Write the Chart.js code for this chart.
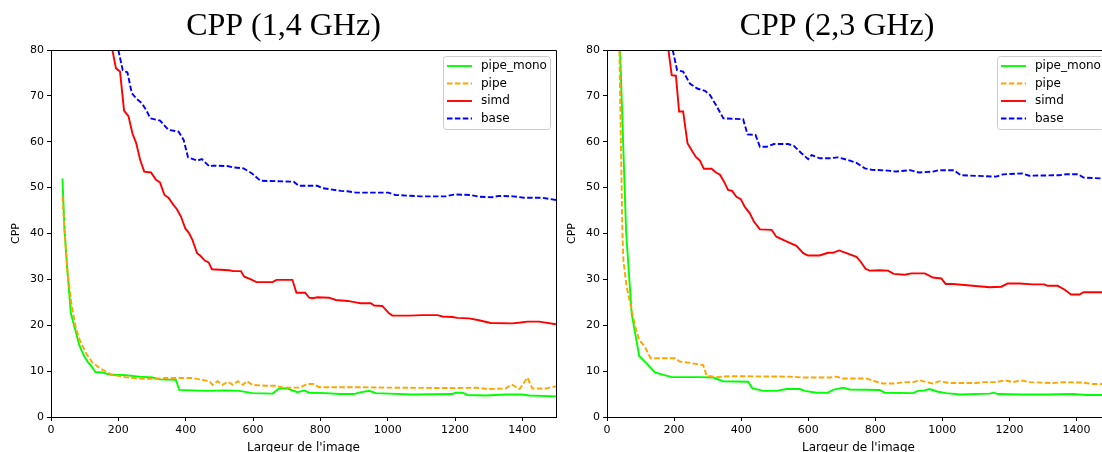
<!DOCTYPE html>
<html lang="fr">
<head>
  <meta charset="UTF-8" />
  <title>CPP</title>
  <script src="https://cdn.jsdelivr.net/npm/chart.js@4.4.0/dist/chart.umd.min.js"></script>
  <style>
    html, body { margin: 0; padding: 0; background: #fff; overflow: hidden; }
    #wrap { position: relative; width: 1102px; height: 452px; overflow: hidden; }
    canvas { position: absolute; top: 0; }
    #c14 { left: 0; }
    #c23 { left: 556px; }
  </style>
</head>
<body>
  <div id="wrap">
    <canvas id="c14" width="560" height="452"></canvas>
    <canvas id="c23" width="558" height="452"></canvas>
  </div>
  <script>
    // [largeur, cpp] pairs
    const seriesNames = ['pipe_mono', 'pipe', 'simd', 'base'];

    // 1,4 GHz
    const pipeMono14 = [[34,52],[40,41],[48,32.5],[59,22.6],[72,19],[84,15.7],[96,13.6],[109,12],[121,11],[132,9.8],[153,9.7],[178,9.2],[223,9.1],[262,8.8],[302,8.6],[322,8.2],[371,8.1],[381,5.9],[460,5.7],[520,5.8],[559,5.7],[599,5.2],[658,5.1],[678,6.2],[702,6.2],[732,5.4],[752,5.8],[767,5.3],[816,5.2],[856,5.0],[900,5.0],[915,5.3],[945,5.7],[965,5.2],[1004,5.1],[1074,4.9],[1192,5.0],[1202,5.3],[1222,5.3],[1237,4.8],[1291,4.7],[1350,4.9],[1400,4.9],[1420,4.7],[1500,4.5]];
    const pipe14 = [[34,48],[40,41],[48,32.5],[60,25],[72,20],[84,17],[105,13.8],[124,11.8],[148,10.5],[178,9.3],[218,8.7],[260,8.4],[297,8.3],[341,8.5],[420,8.5],[440,8.2],[470,7.8],[480,7.0],[495,7.8],[510,7.0],[525,7.7],[540,7.0],[555,7.8],[570,7.0],[582,7.8],[598,7.0],[640,6.8],[668,6.8],[690,6.4],[740,6.4],[760,7.2],[780,7.2],[796,6.5],[900,6.5],[1000,6.4],[1200,6.3],[1260,6.4],[1300,6.1],[1350,6.2],[1368,7.1],[1392,6.1],[1415,8.6],[1430,6.2],[1470,6.2],[1500,6.7]];
    const simd14 = [[175,82.7],[193,76],[205,75.3],[217,66.8],[230,65.6],[242,61.8],[253,59.7],[265,56],[277,53.5],[297,53.3],[312,51.7],[324,51.1],[337,48.4],[349,47.8],[362,46.4],[374,45.3],[386,43.7],[399,41.1],[409,40.2],[420,38.6],[434,35.7],[443,35.2],[457,34.1],[468,33.7],[478,32.2],[529,32.0],[541,31.8],[564,31.8],[574,30.6],[594,30.0],[610,29.4],[658,29.4],[670,29.9],[717,29.9],[729,27.1],[755,27.1],[767,26.0],[777,25.9],[792,26.1],[826,26.0],[846,25.5],[881,25.3],[905,25.0],[920,24.8],[950,24.8],[960,24.3],[984,24.2],[1004,22.6],[1014,22.1],[1064,22.1],[1103,22.2],[1148,22.2],[1163,21.9],[1192,21.8],[1207,21.6],[1242,21.5],[1271,21.1],[1306,20.5],[1370,20.4],[1395,20.6],[1415,20.8],[1450,20.8],[1500,20.2]];
    const base14 = [[190,83.4],[213,75.6],[227,75.1],[240,70.6],[255,69.3],[270,68.4],[285,66.6],[295,65.1],[324,64.6],[349,62.6],[379,62.2],[394,60.4],[407,56.6],[434,55.9],[448,56.2],[471,54.6],[481,54.8],[523,54.7],[543,54.4],[572,54.2],[597,53.1],[622,51.5],[721,51.3],[736,50.4],[791,50.4],[806,49.9],[860,49.3],[880,49.2],[907,48.9],[1002,48.9],[1023,48.4],[1098,48.1],[1172,48.1],[1198,48.5],[1246,48.4],[1273,48.0],[1310,47.9],[1331,48.2],[1373,48.1],[1405,47.8],[1458,47.8],[1500,47.3]];

    // 2,3 GHz
    const pipeMono23 = [[33,93],[57,40.4],[73.5,22.6],[96,13.3],[118,11.7],[143,9.7],[163,9.3],[193,8.7],[277,8.7],[317,8.6],[346,7.8],[421,7.7],[433,6.3],[466,5.7],[506,5.7],[535,6.1],[575,6.1],[590,5.7],[625,5.3],[659,5.3],[674,5.9],[704,6.4],[724,6.0],[813,5.9],[828,5.3],[913,5.2],[927,5.7],[942,5.7],[962,6.1],[987,5.5],[1012,5.2],[1052,4.9],[1141,5.1],[1153,5.3],[1166,5.0],[1240,4.9],[1310,4.9],[1389,5.0],[1429,4.8],[1500,4.8]];
    const pipe23 = [[33,97],[46,40],[49,34],[58.6,28.4],[73.5,23.3],[85,19.5],[96,16.8],[113,15.3],[130,12.8],[203,12.8],[217,12.1],[247,11.8],[287,11.3],[297,9.0],[327,8.7],[366,8.9],[545,8.8],[585,8.6],[664,8.6],[684,8.8],[704,8.4],[774,8.4],[798,7.8],[823,7.3],[863,7.3],[883,7.6],[913,7.6],[933,8.0],[952,7.6],[972,7.3],[992,7.8],[1022,7.4],[1101,7.4],[1126,7.6],[1161,7.6],[1186,8.0],[1210,7.6],[1235,8.0],[1260,7.6],[1330,7.4],[1360,7.6],[1419,7.5],[1449,7.2],[1500,7.2]];
    const simd23 = [[176,84],[193,74.5],[205.5,74.4],[215,66.6],[227,66.6],[240,59.7],[252,58.2],[265,56.7],[277,55.9],[289,54.1],[312,54.1],[325,53.3],[337,52.8],[349,51.3],[361,49.5],[373,49.3],[386,48.0],[399,47.5],[411,45.8],[426,44.4],[438,42.6],[456,40.9],[491,40.8],[505,39.3],[535,38.3],[565,37.3],[585,35.7],[600,35.2],[634,35.2],[659,35.8],[674,35.8],[692,36.3],[714,35.7],[744,34.9],[756,33.9],[771,32.3],[783,31.9],[813,32.0],[838,31.9],[855,31.2],[888,31.0],[908,31.3],[948,31.3],[972,30.4],[997,30.2],[1010,29.0],[1032,29.0],[1091,28.6],[1141,28.3],[1176,28.4],[1195,29.1],[1230,29.1],[1270,28.9],[1304,28.9],[1314,28.6],[1344,28.6],[1364,27.8],[1384,26.7],[1409,26.7],[1421,27.2],[1500,27.2]];
    const base23 = [[186,83.4],[209,75.6],[227,75.3],[247,72.7],[269,71.6],[292,71.1],[307,70.2],[325,68.0],[347,65.1],[406,64.9],[419,61.6],[443,61.5],[456,58.9],[476,58.9],[498,59.5],[540,59.5],[557,59.1],[580,57.5],[600,56.2],[610,57.1],[635,56.4],[665,56.4],[689,56.6],[719,56.0],[744,55.4],[769,54.2],[789,53.9],[839,53.7],[862,53.5],[904,53.8],[930,53.3],[972,53.5],[990,53.8],[1034,53.8],[1055,52.7],[1160,52.4],[1181,52.9],[1238,53.1],[1259,52.6],[1348,52.7],[1369,52.9],[1405,52.9],[1421,52.2],[1500,51.9]];

    const xMax = 1500, xStep = 200;
    const yMax = 80, yStep = 10;

    const colors = ['#00ff00', '#ffa500', '#ff0000', '#0000ff'];
    const dashes = [[], [5.5, 2.4], [], [5.5, 2.4]];
    const tickFont = { family: 'DejaVu Sans', size: 11 };

    // top and right spines
    const framePlugin = {
      id: 'frame',
      afterDatasetsDraw(chart) {
        const { ctx, chartArea: a } = chart;
        ctx.save();
        ctx.strokeStyle = '#000';
        ctx.lineWidth = 1;
        ctx.beginPath();
        ctx.moveTo(Math.round(a.left), Math.round(a.top) + 0.5);
        ctx.lineTo(Math.round(a.right) + 0.5, Math.round(a.top) + 0.5);
        ctx.lineTo(Math.round(a.right) + 0.5, Math.round(a.bottom));
        ctx.stroke();
        ctx.restore();
      }
    };

    // figure title
    const titlePlugin = {
      id: 'figTitle',
      afterDraw(chart, args, opts) {
        const ctx = chart.ctx;
        ctx.save();
        ctx.fillStyle = '#000';
        ctx.font = '32px "Liberation Serif"';
        ctx.textAlign = 'center';
        ctx.textBaseline = 'alphabetic';
        ctx.fillText(opts.text, opts.x, 35);
        ctx.restore();
      }
    };

    // matplotlib-like legend in the upper right corner
    const boxLegend = {
      id: 'boxLegend',
      afterDraw(chart) {
        const { ctx, chartArea: a } = chart;
        const w = 107, h = 73;
        const left = a.right - 6 - w, top = a.top + 6;
        ctx.save();
        ctx.fillStyle = 'rgba(255,255,255,0.8)';
        ctx.strokeStyle = '#cccccc';
        ctx.lineWidth = 1;
        ctx.beginPath();
        ctx.roundRect(left + 0.5, top + 0.5, w, h, 3);
        ctx.fill();
        ctx.stroke();
        ctx.font = '12px "DejaVu Sans"';
        ctx.textBaseline = 'middle';
        ctx.fillStyle = '#000';
        chart.data.datasets.forEach((ds, i) => {
          const y = top + 10 + i * 17.5;
          ctx.strokeStyle = ds.borderColor;
          ctx.lineWidth = ds.borderWidth;
          ctx.setLineDash(ds.borderDash);
          ctx.beginPath();
          ctx.moveTo(left + 4, y);
          ctx.lineTo(left + 29, y);
          ctx.stroke();
          ctx.setLineDash([]);
          ctx.fillText(ds.label, left + 38, y);
        });
        ctx.restore();
      }
    };

    function makeChart(id, title, titleX, series) {
      const datasets = series.map((pts, i) => ({
        label: seriesNames[i],
        data: pts.map(p => ({ x: p[0], y: p[1] })),
        borderColor: colors[i],
        borderWidth: 1.9,
        borderDash: dashes[i],
        pointRadius: 0,
        tension: 0,
        fill: false,
        order: series.length - i
      }));
      return new Chart(document.getElementById(id), {
        type: 'line',
        data: { datasets },
        plugins: [framePlugin, titlePlugin, boxLegend],
        options: {
          responsive: false,
          animation: false,
          layout: { padding: { left: 0, right: 4, top: 50, bottom: 0 } },
          plugins: {
            legend: { display: false },
            tooltip: { enabled: false },
            figTitle: { text: title, x: titleX }
          },
          scales: {
            x: {
              type: 'linear',
              min: 0, max: xMax,
              afterFit: s => { s.height = 35; },
              ticks: { stepSize: xStep, includeBounds: false, maxRotation: 0, color: '#000', font: tickFont, padding: 3, callback: v => String(v) },
              grid: { drawOnChartArea: false, drawTicks: true, tickLength: 4, tickColor: '#000' },
              border: { display: true, color: '#000', width: 1 },
              title: { display: true, text: "Largeur de l'image", color: '#000', font: { family: 'DejaVu Sans', size: 12 }, padding: { top: 0, bottom: -3 } }
            },
            y: {
              min: 0, max: yMax,
              afterFit: s => { s.width = 51; },
              ticks: { stepSize: yStep, color: '#000', font: tickFont, padding: 3, callback: v => String(v) },
              grid: { drawOnChartArea: false, drawTicks: true, tickLength: 4, tickColor: '#000' },
              border: { display: true, color: '#000', width: 1 },
              title: { display: true, text: 'CPP', color: '#000', font: { family: 'DejaVu Sans', size: 11 }, padding: { top: 10, bottom: 0 } }
            }
          }
        }
      });
    }

    makeChart('c14', 'CPP (1,4 GHz)', 283.5, [pipeMono14, pipe14, simd14, base14]);
    makeChart('c23', 'CPP (2,3 GHz)', 281, [pipeMono23, pipe23, simd23, base23]);
  </script>
</body>
</html>
